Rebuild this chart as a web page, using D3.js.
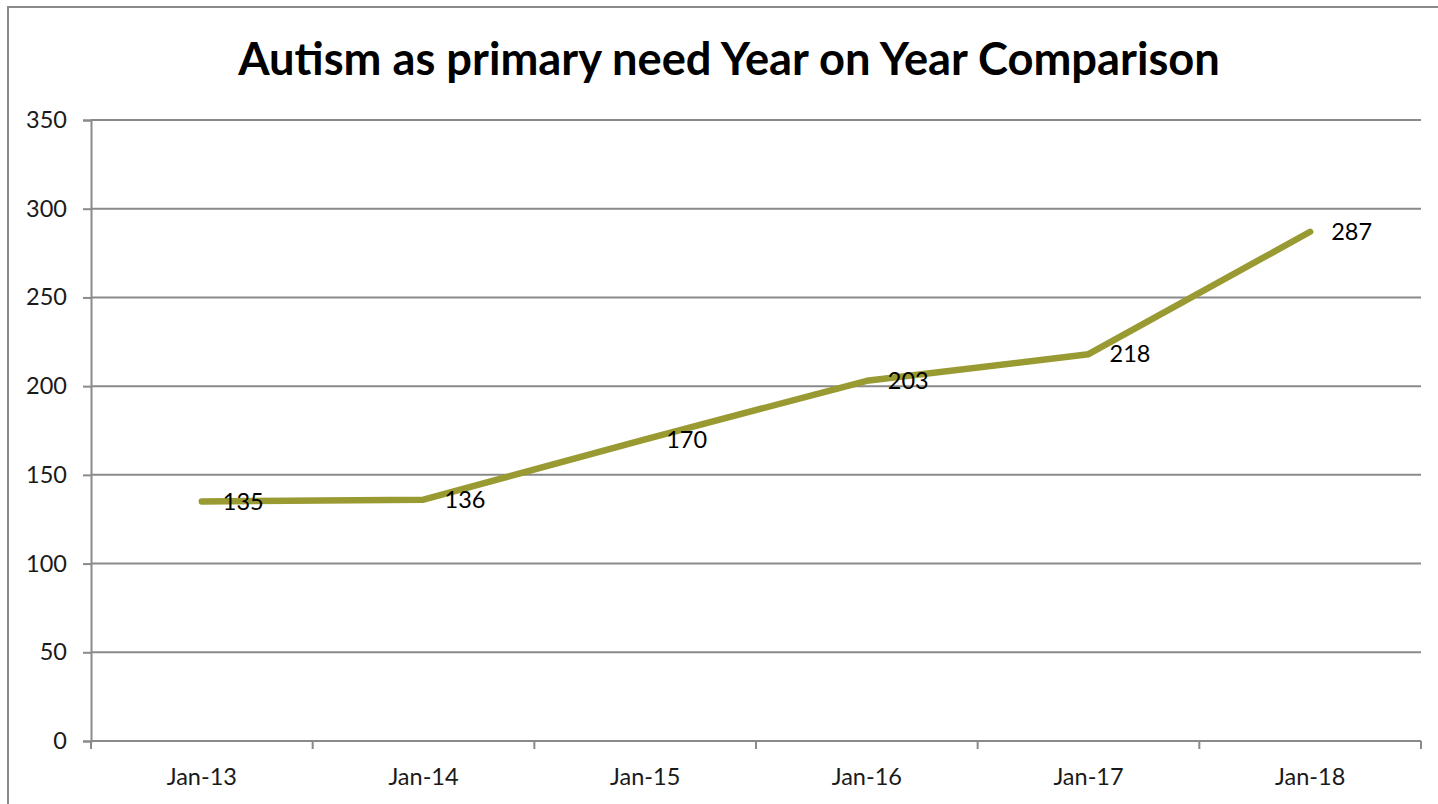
<!DOCTYPE html>
<html>
<head>
<meta charset="utf-8">
<script src="https://cdn.jsdelivr.net/npm/d3@7"></script>
<style>
  html, body { margin: 0; padding: 0; background: #fff; }
  svg { display: block; }
  text { font-family: Lato, "Open Sans", sans-serif; }
</style>
</head>
<body>
<svg id="chart" width="1438" height="804"></svg>
<script>
// Autism as primary need: January counts by year
const categories = ["Jan-13", "Jan-14", "Jan-15", "Jan-16", "Jan-17", "Jan-18"];
const counts = [135, 136, 170, 203, 218, 287];
const yTicks = [0, 50, 100, 150, 200, 250, 300, 350];
const titleText = "Autism as primary need Year on Year Comparison";

const W = 1438, H = 804;
const margin = { left: 91, right: 17, top: 120, bottom: 63 };
const plotW = W - margin.left - margin.right;
const plotH = H - margin.top - margin.bottom;

const gridColor = "#8a8a8a";
const lineColor = "#999a32";
const labelSize = 23.5;

const svg = d3.select("#chart");

// chart frame (right and bottom edges fall outside the view)
svg.append("rect")
  .attr("x", 8).attr("y", 7)
  .attr("width", W + 20).attr("height", H + 20)
  .attr("fill", "#fff")
  .attr("stroke", gridColor)
  .attr("stroke-width", 2);

// title
const title = svg.append("text")
  .attr("x", 729).attr("y", 75)
  .attr("text-anchor", "middle")
  .attr("font-weight", "bold")
  .attr("font-size", 44)
  .attr("fill", "#000")
  .text(titleText);
const tw = title.node().getComputedTextLength();
title.attr("font-size", 44 * 982 / tw);

const x = d3.scaleBand().domain(categories).range([0, plotW]).padding(0);
const y = d3.scaleLinear().domain([0, 350]).range([plotH, 0]);

const g = svg.append("g").attr("transform", `translate(${margin.left},${margin.top})`);

// horizontal gridlines
g.append("g")
  .selectAll("line")
  .data(yTicks.filter(d => d > 0))
  .join("line")
  .attr("x1", 0).attr("x2", plotW)
  .attr("y1", d => y(d)).attr("y2", d => y(d))
  .attr("stroke", gridColor)
  .attr("stroke-width", 2);

// y axis
const yAxis = g.append("g")
  .call(d3.axisLeft(y).tickValues(yTicks).tickSize(8).tickPadding(16));
yAxis.select(".domain").attr("stroke", gridColor).attr("stroke-width", 2);
yAxis.selectAll(".tick line").attr("stroke", gridColor).attr("stroke-width", 2);
yAxis.selectAll(".tick text")
  .attr("font-size", labelSize)
  .attr("fill", "#1a1a1a")
  .style("font-family", "Lato, 'Open Sans', sans-serif");

// x axis: ticks sit on the category boundaries
const xAxis = g.append("g").attr("transform", `translate(0,${plotH})`);
xAxis.append("line")
  .attr("x1", 0).attr("x2", plotW)
  .attr("stroke", gridColor).attr("stroke-width", 2);
const bounds = categories.map(c => x(c)).concat([plotW]);
xAxis.selectAll("line.tk")
  .data(bounds)
  .join("line")
  .attr("class", "tk")
  .attr("x1", d => d).attr("x2", d => d)
  .attr("y1", 0).attr("y2", 8)
  .attr("stroke", gridColor).attr("stroke-width", 2);
xAxis.selectAll("text")
  .data(categories)
  .join("text")
  .attr("x", d => x(d) + x.bandwidth() / 2)
  .attr("y", 44)
  .attr("text-anchor", "middle")
  .attr("font-size", labelSize)
  .attr("fill", "#1a1a1a")
  .text(d => d);

// series line
const pts = categories.map((c, i) => ({ c, v: counts[i] }));
const line = d3.line()
  .x(d => x(d.c) + x.bandwidth() / 2)
  .y(d => y(d.v));
g.append("path")
  .datum(pts)
  .attr("d", line)
  .attr("fill", "none")
  .attr("stroke", lineColor)
  .attr("stroke-width", 6.5)
  .attr("stroke-linecap", "round")
  .attr("stroke-linejoin", "round");

// value labels to the right of each point
g.selectAll("text.val")
  .data(pts)
  .join("text")
  .attr("class", "val")
  .attr("x", d => x(d.c) + x.bandwidth() / 2 + 21)
  .attr("y", d => y(d.v))
  .attr("dy", "0.35em")
  .attr("font-size", labelSize)
  .attr("fill", "#000")
  .text(d => d.v);
</script>
</body>
</html>
